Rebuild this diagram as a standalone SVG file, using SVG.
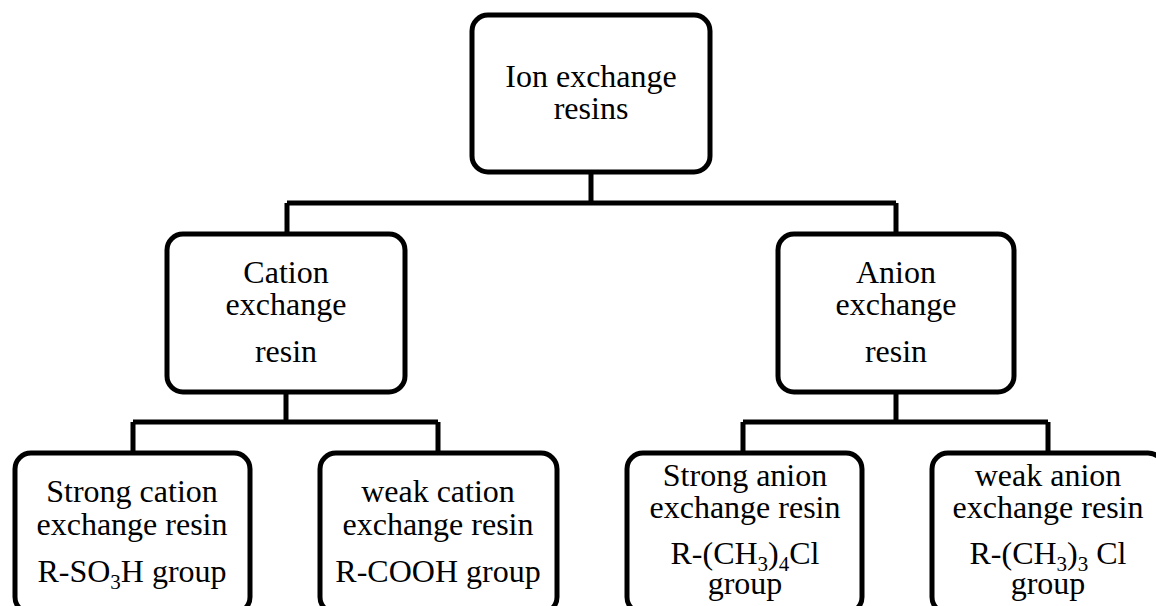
<svg xmlns="http://www.w3.org/2000/svg" width="1156" height="606" viewBox="0 0 1156 606">
<style>
.box{fill:#fff;stroke:#000;stroke-width:5}
.con{fill:none;stroke:#000;stroke-width:5;stroke-linejoin:miter}
.t{font-family:'Liberation Serif','DejaVu Serif',serif;font-size:32px;fill:#000;text-anchor:middle}
.sub{font-size:21px}
</style>
<rect width="1156" height="606" fill="#fff"/>
<g id="connectors">
<path class="con" d="M591 172 V203 M287 203 H896 M287 203 V234 M896 203 V234"/>
<path class="con" d="M286 392 V422 M133 422 H438 M133 422 V453 M438 422 V453"/>
<path class="con" d="M896 392 V422 M743 422 H1048 M743 422 V453 M1048 422 V453"/>
</g>
<g id="root">
<rect class="box" x="472" y="15" width="238" height="157" rx="16"/>
<text class="t" x="591" y="87">Ion exchange</text>
<text class="t" x="591" y="119">resins</text>
</g>
<g id="cation">
<rect class="box" x="167" y="234" width="238" height="158" rx="16"/>
<text class="t" x="286" y="283">Cation</text>
<text class="t" x="286" y="315">exchange</text>
<text class="t" x="286" y="362">resin</text>
</g>
<g id="anion">
<rect class="box" x="778" y="234" width="236" height="158" rx="16"/>
<text class="t" x="896" y="283">Anion</text>
<text class="t" x="896" y="315">exchange</text>
<text class="t" x="896" y="362">resin</text>
</g>
<g id="strong-cation">
<rect class="box" x="15" y="453" width="235" height="160" rx="16"/>
<text class="t" x="132" y="502">Strong cation</text>
<text class="t" x="132" y="535">exchange resin</text>
<text class="t" x="132" y="582">R-SO<tspan class="sub" dy="7">3</tspan><tspan dy="-7">H group</tspan></text>
</g>
<g id="weak-cation">
<rect class="box" x="320" y="453" width="237" height="160" rx="16"/>
<text class="t" x="438" y="502">weak cation</text>
<text class="t" x="438" y="535">exchange resin</text>
<text class="t" x="438" y="582">R-COOH group</text>
</g>
<g id="strong-anion">
<rect class="box" x="627" y="453" width="235" height="160" rx="16"/>
<text class="t" x="745" y="486">Strong anion</text>
<text class="t" x="745" y="518">exchange resin</text>
<text class="t" x="745" y="564">R-(CH<tspan class="sub" dy="7">3</tspan><tspan dy="-7">)</tspan><tspan class="sub" dy="7">4</tspan><tspan dy="-7">Cl</tspan></text>
<text class="t" x="745" y="594">group</text>
</g>
<g id="weak-anion">
<rect class="box" x="932" y="453" width="232" height="160" rx="16"/>
<text class="t" x="1048" y="486">weak anion</text>
<text class="t" x="1048" y="518">exchange resin</text>
<text class="t" x="1048" y="564">R-(CH<tspan class="sub" dy="7">3</tspan><tspan dy="-7">)</tspan><tspan class="sub" dy="7">3</tspan><tspan dy="-7"> Cl</tspan></text>
<text class="t" x="1048" y="594">group</text>
</g>
</svg>
